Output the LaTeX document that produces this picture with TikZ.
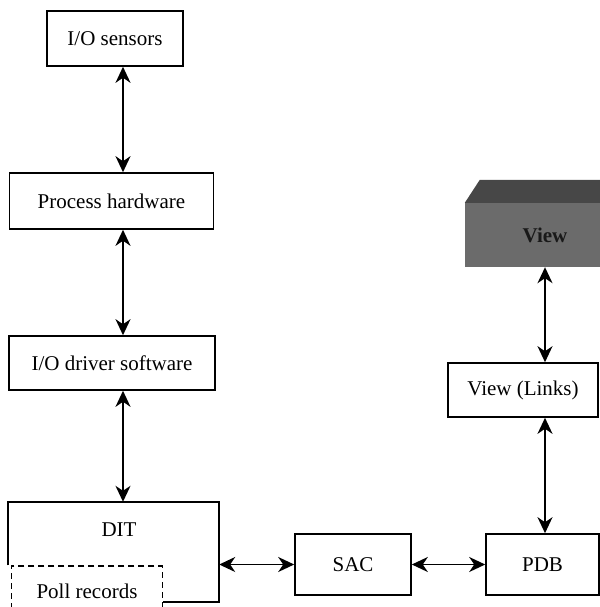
\documentclass[tikz,border=0pt]{standalone}
\usepackage{fontspec}
\setmainfont{Liberation Serif}
\usetikzlibrary{arrows.meta}
\tikzset{
  blk/.style={draw, line width=1.6pt, inner sep=0pt, font=\fontsize{21}{25}\selectfont},
  dblarr/.style={line width=1.6pt, >={Stealth[length=16pt,width=15pt,inset=5pt]}, <->}
}
\begin{document}
\begin{tikzpicture}[x=1pt,y=-1pt]
  \useasboundingbox (0,0) rectangle (599,607);
  % left column
  \node[blk, minimum width=136pt, minimum height=55pt] (sens) at (115,38.5) {I/O sensors};
  \node[blk, minimum width=204pt, minimum height=56pt] (hw) at (111.5,201) {Process hardware};
  \node[blk, minimum width=206pt, minimum height=54pt] (drv) at (112,363) {I/O driver software};
  \node[inner sep=0pt, minimum width=211pt, minimum height=100pt] (dit) at (113.5,552) {};
  \node[blk, dash pattern=on 6pt off 4pt, line width=1.4pt, minimum width=151.5pt, minimum height=50pt] (poll) at (87,591) {Poll records};
  \draw[line width=1.6pt] (dit.west |- poll.north) -- (dit.north west) -- (dit.north east)
     -- (dit.south east) -- (poll.east |- dit.south);
  \node[font=\fontsize{21}{25}\selectfont] (ditlbl) at (119,530) {DIT};
  \coordinate (spine) at (123,0);
  \draw[dblarr] (sens.south -| spine) -- (hw.north -| spine);
  \draw[dblarr] (hw.south -| spine) -- (drv.north -| spine);
  \draw[dblarr] (drv.south -| spine) -- (dit.north -| spine);
  % bottom row
  \node[blk, minimum width=116pt, minimum height=61pt] (sac) at (353,564.5) {SAC};
  \node[blk, minimum width=113pt, minimum height=61pt] (pdb) at (542.5,564.5) {PDB};
  \draw[dblarr] (sac.west -| dit.east) -- (sac.west);
  \draw[dblarr] (sac.east) -- (pdb.west);
  % right column
  \node[blk, minimum width=150pt, minimum height=54pt] (links) at (523,390) {View (Links)};
  \node[inner sep=0pt, fill=black!58, minimum width=160pt, minimum height=64pt,
        font=\fontsize{21}{25}\selectfont\bfseries, text=black!90] (view) at (545,235) {View};
  \fill[black!72] (view.north west) -- ([xshift=15pt,yshift=23pt]view.north west)
     -- ([yshift=23pt]view.north east) -- (view.north east) -- cycle;
  \coordinate (rspine) at (545,0);
  \draw[dblarr] (view.south -| rspine) -- (links.north -| rspine);
  \draw[dblarr] (links.south -| rspine) -- (pdb.north -| rspine);
\end{tikzpicture}
\end{document}
